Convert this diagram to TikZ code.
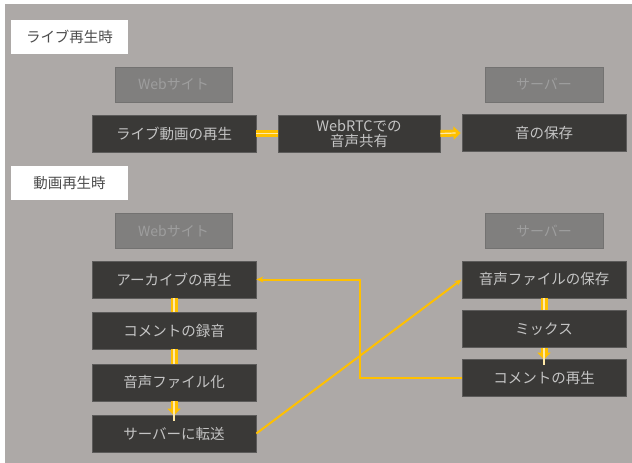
\documentclass[tikz,border=0pt]{standalone}
\usepackage{fontspec}
\setmainfont{Noto Sans CJK JP}
\usetikzlibrary{arrows.meta}
\definecolor{bgc}{HTML}{ADA9A7}
\definecolor{darkc}{HTML}{3A3937}
\definecolor{darkedge}{HTML}{5C5B5A}
\definecolor{boxtxt}{HTML}{C4C4C4}
\definecolor{hdrc}{HTML}{807F7E}
\definecolor{hdrtxt}{HTML}{9E9E9E}
\definecolor{yel}{HTML}{FFC000}
\definecolor{yelin}{HTML}{FFE9A8}
\tikzset{
  stepbox/.style={draw=darkedge, line width=0.8pt, fill=darkc, text=boxtxt, minimum width=164pt, minimum height=37pt, inner sep=0pt, font=\fontsize{14.5}{17}\selectfont, align=center},
  hdrbox/.style={draw=hdrc!90!black, line width=0.5pt, fill=hdrc, text=hdrtxt, minimum width=117pt, minimum height=35pt, inner sep=0pt, font=\fontsize{14}{16}\selectfont},
  lblbox/.style={draw=none, fill=white, text=black!70, minimum width=117pt, minimum height=34pt, inner sep=0pt, font=\fontsize{14.5}{17}\selectfont},
  fat/.style={draw=yel, line width=7pt},
  fathead/.style={draw=yel, line width=7pt, -{Triangle[width=13pt,length=7pt]}},
  fatin/.style={draw=yelin, line width=1.2pt},
  thinarr/.style={draw=yel, line width=2pt, -{Stealth[length=7pt,width=6pt]}}
}
\begin{document}
\begin{tikzpicture}[x=1pt,y=-1pt]
\useasboundingbox (0,0) rectangle (632,463);
\fill[white] (0,0) rectangle (632,463);
\fill[bgc] (5,4) rectangle (632,463);

% section 1
\node[lblbox] (l1) at (69.5,37) {ライブ再生時};
\node[hdrbox] (web1) at (173.5,84.5) {Webサイト};
\node[hdrbox, minimum width=118pt] (srv1) at (544,84.5) {サーバー};
\node[stepbox] (live) at (174,133.5) {ライブ動画の再生};
\node[stepbox, minimum width=162pt] (rtc) at (359,133.5) {WebRTCでの\\[-2pt]音声共有};
\node[stepbox] (save) at (544,133) {音の保存};

% section 2
\node[lblbox] (l2) at (69.5,183) {動画再生時};
\node[hdrbox] (web2) at (173.5,231) {Webサイト};
\node[hdrbox, minimum width=118pt] (srv2) at (544,231) {サーバー};
\node[stepbox] (arc) at (174,279.5) {アーカイブの再生};
\node[stepbox] (rec) at (174,330.5) {コメントの録音};
\node[stepbox] (file) at (174,382.5) {音声ファイル化};
\node[stepbox] (send) at (174,433.5) {サーバーに転送};
\node[stepbox] (fsave) at (544,279.5) {音声ファイルの保存};
\node[stepbox] (mix) at (544,329) {ミックス};
\node[stepbox] (play) at (544,377.5) {コメントの再生};

% fat connectors
\draw[fat] (live.east) -- (rtc.west);
\draw[fatin] (live.east) -- (rtc.west);
\draw[fathead] (rtc.east) -- ([xshift=-1pt]save.west);
\draw[fatin] (rtc.east) -- ([xshift=-6pt]save.west);
\draw[fat] (arc.south) -- (rec.north);
\draw[fatin] (arc.south) -- (rec.north);
\draw[fat] (rec.south) -- (file.north);
\draw[fatin] (rec.south) -- (file.north);
\draw[fathead] (file.south) -- ([yshift=-1pt]send.north);
\draw[fatin] (file.south) -- ([yshift=-6pt]send.north);
\draw[fat] (fsave.south) -- (mix.north);
\draw[fatin] (fsave.south) -- (mix.north);
\draw[fathead] (mix.south) -- ([yshift=-1pt]play.north);
\draw[fatin] (mix.south) -- ([yshift=-6pt]play.north);

% thin connectors
\coordinate (bend1) at (360,377.5);
\coordinate (bend2) at (360,279.5);
\draw[thinarr] (play.west) -- (bend1) -- (bend2) -- (arc.east);
\draw[thinarr] (send.east) -- (fsave.west);
\end{tikzpicture}
\end{document}
